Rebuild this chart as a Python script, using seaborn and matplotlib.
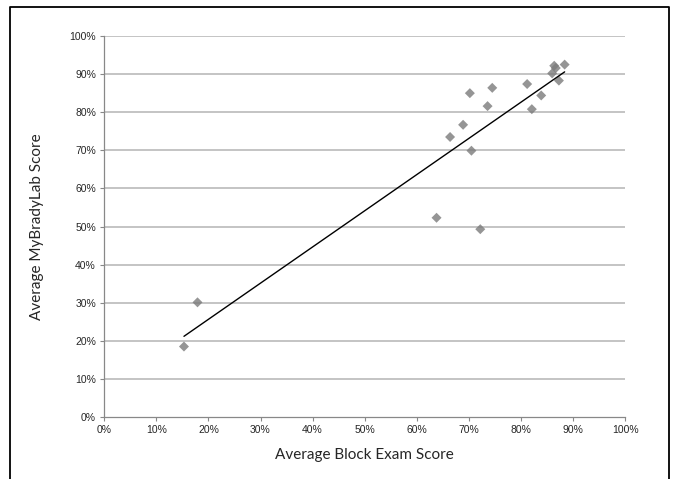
import matplotlib
matplotlib.use("Agg")
import matplotlib.pyplot as plt
import matplotlib.ticker as mtick
from matplotlib.lines import Line2D
import seaborn as sns
import pandas as pd

sns.set_style("white")
plt.rcParams['font.family'] = ['Liberation Sans', 'DejaVu Sans']

# average scores per student, in percent
block_exam = [15.3, 17.9, 63.8, 72.2, 66.4, 68.9, 70.5, 70.2, 74.5, 73.6,
              81.2, 83.9, 82.1, 86.4, 86.0, 86.7, 88.4, 87.3]
mybradylab = [18.5, 30.1, 52.3, 49.3, 73.5, 76.7, 69.9, 85.0, 86.4, 81.6,
              87.4, 84.4, 80.8, 92.2, 90.2, 91.6, 92.5, 88.3]

df = pd.DataFrame({"exam": block_exam, "lab": mybradylab})

fig = plt.figure(figsize=(6.75, 4.79), dpi=100)
ax = fig.add_axes([0.1545, 0.1294, 0.7715, 0.7954])

# horizontal gridlines only
for v in range(10, 101, 10):
    ax.axhline(v, color="#c4c4c4", lw=1.4, zorder=0)

sns.regplot(data=df, x="exam", y="lab", ax=ax, ci=None, marker="D",
            scatter_kws=dict(s=26, color="#7b7b7b", edgecolor="none", zorder=3),
            line_kws=dict(color="black", lw=1.0, zorder=4))

ax.set_xlim(0, 100)
ax.set_ylim(0, 100)
ax.set_xticks(range(0, 101, 10))
ax.set_yticks(range(0, 101, 10))
ax.xaxis.set_major_formatter(mtick.PercentFormatter(decimals=0))
ax.yaxis.set_major_formatter(mtick.PercentFormatter(decimals=0))
ax.tick_params(axis="both", labelsize=7.5, length=3, width=0.8,
               color="#888888", direction="out", pad=3,
               bottom=True, left=True)

for side in ["top", "right"]:
    ax.spines[side].set_visible(False)
for side in ["left", "bottom"]:
    ax.spines[side].set_color("#888888")
    ax.spines[side].set_linewidth(0.9)

ax.set_xlabel("Average Block Exam Score", family=["Lato", "DejaVu Sans"],
              fontsize=11, labelpad=9)
ax.set_ylabel("Average MyBradyLab Score", family=["Lato", "DejaVu Sans"],
              fontsize=11, labelpad=18)

# black frame around the figure (open at the bottom)
fx = [10 / 675, 10 / 675, 669 / 675, 669 / 675]
fy = [0, 1 - 7 / 479, 1 - 7 / 479, 0]
fig.add_artist(Line2D(fx, fy, transform=fig.transFigure, color="black", lw=1.3))

fig.savefig("out.png", dpi=100)
